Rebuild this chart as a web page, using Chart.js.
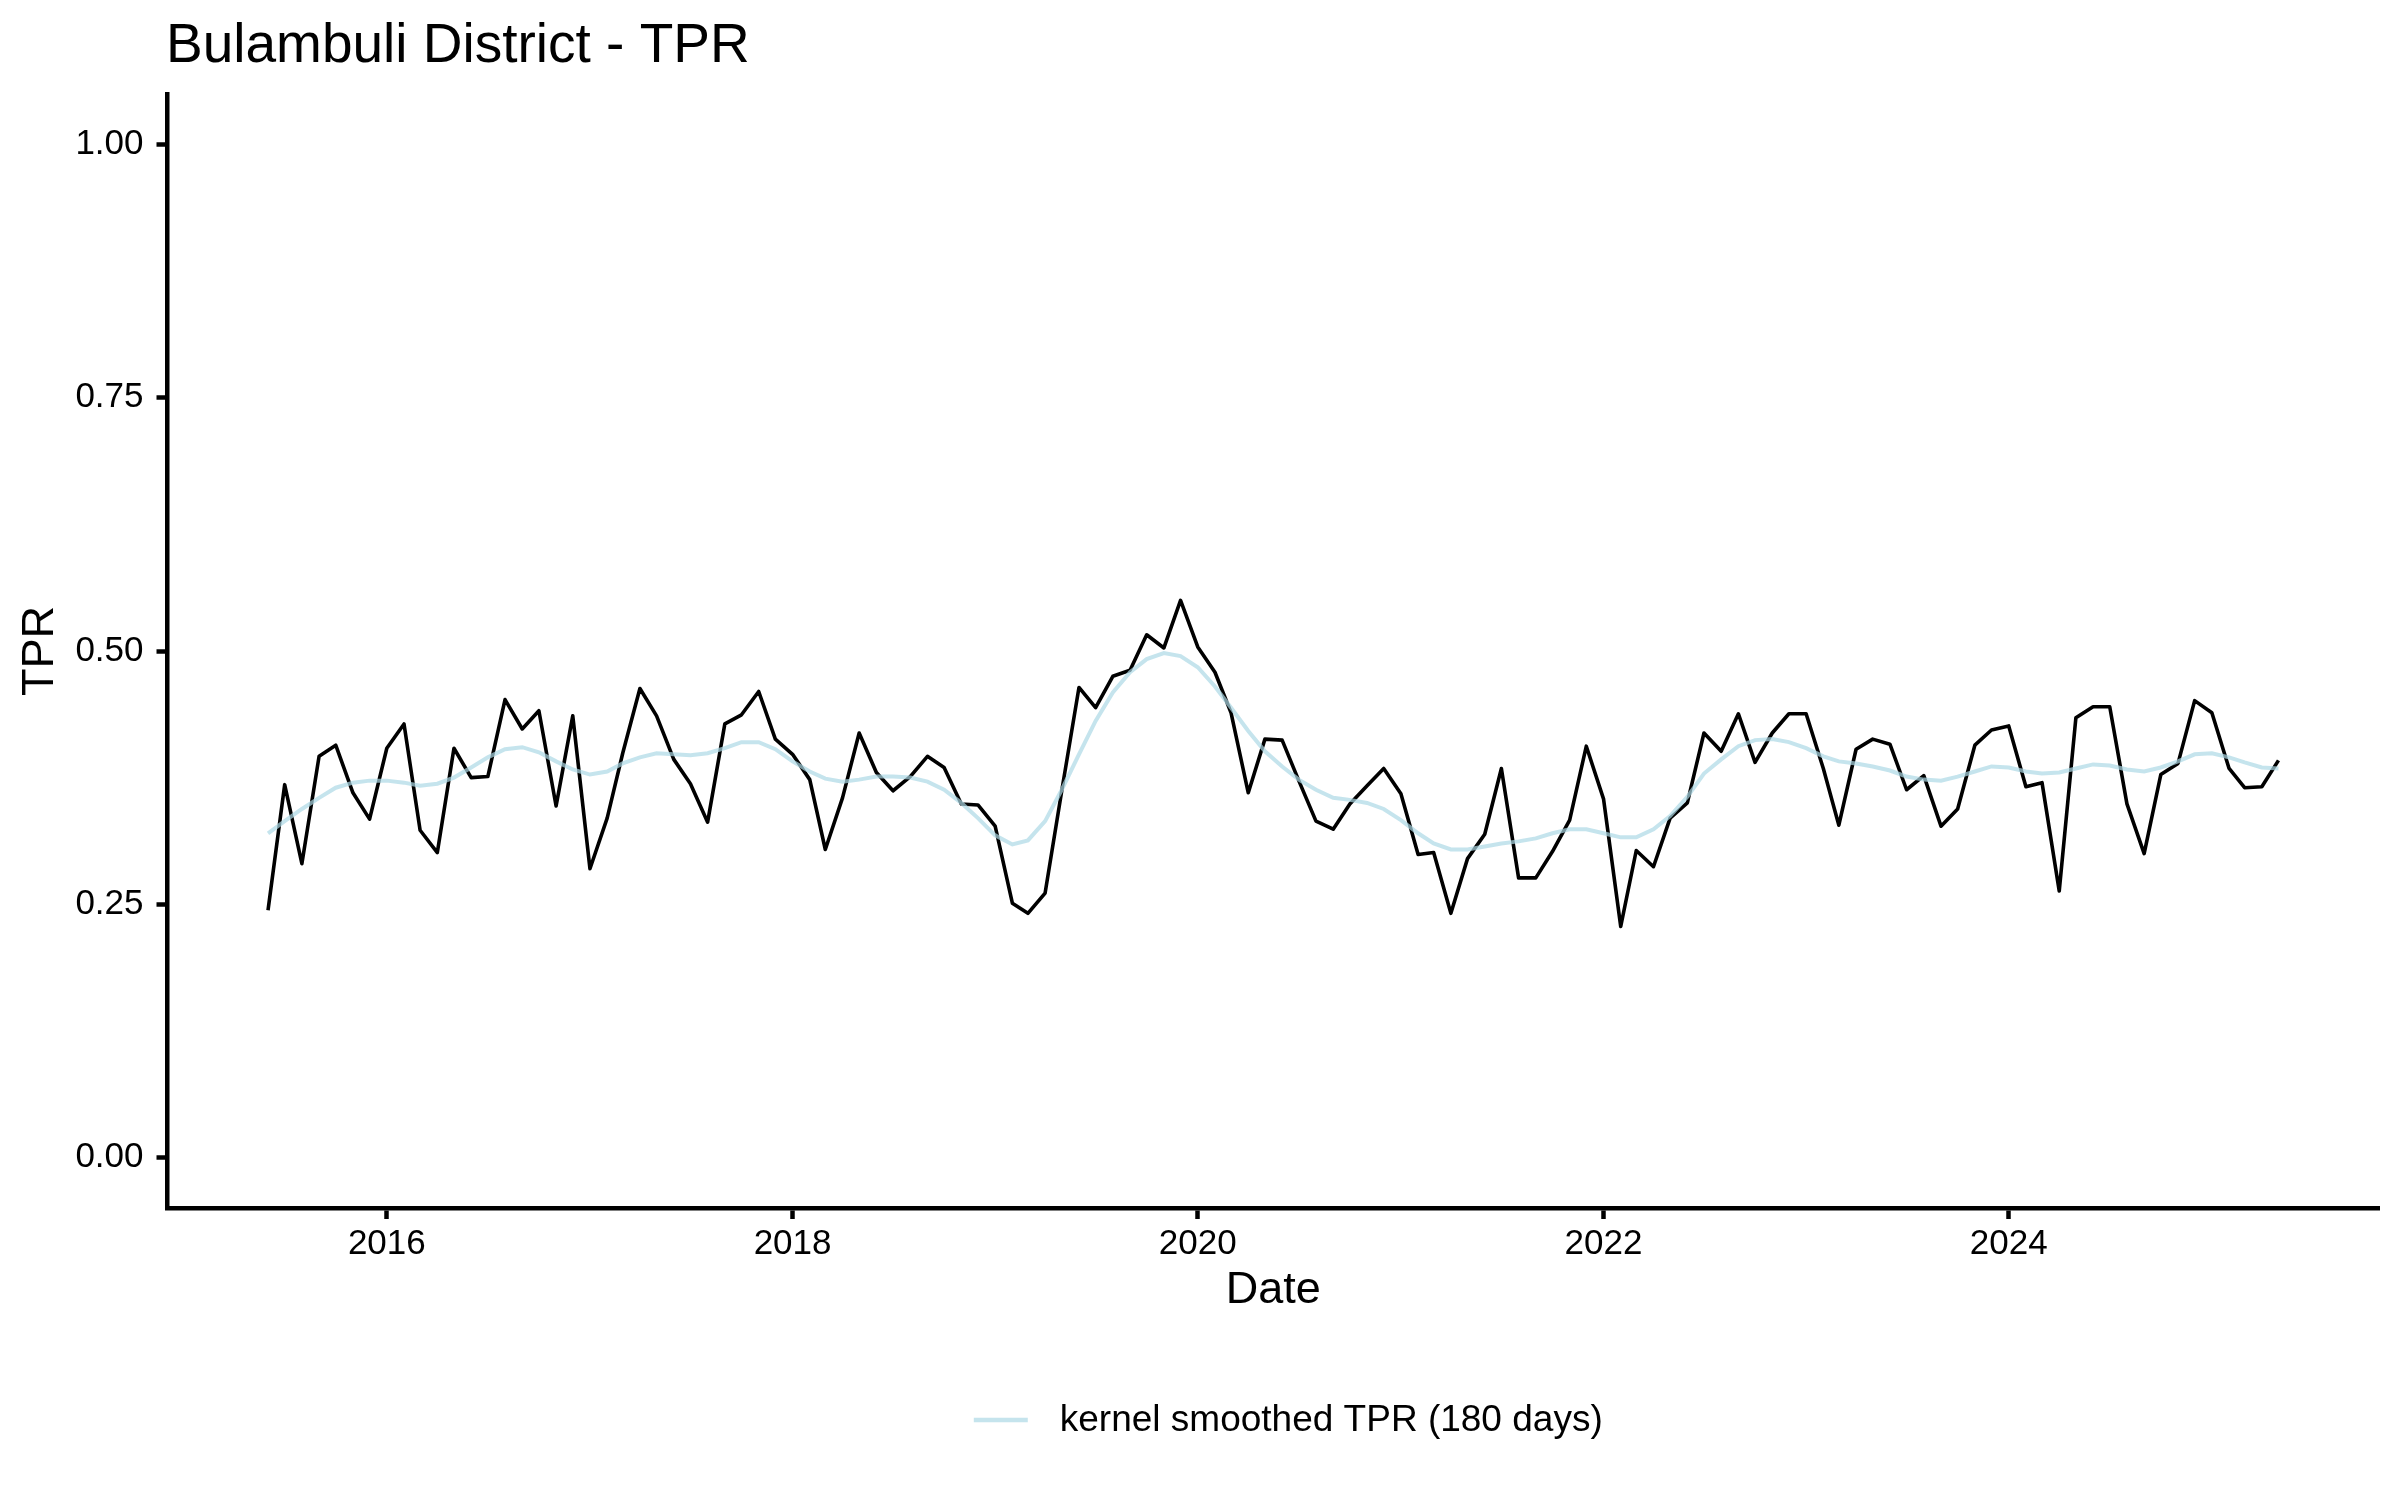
<!DOCTYPE html>
<html><head><meta charset="utf-8">
<script src="https://cdn.jsdelivr.net/npm/chart.js@4/dist/chart.umd.min.js"></script>
<style>html,body{margin:0;padding:0;background:#fff;}canvas{display:block;}</style>
</head><body>
<canvas id="c" width="2400" height="1500"></canvas>
<script>
const chartTitle = 'Bulambuli District - TPR';
const xTitle = 'Date';
const yTitle = 'TPR';
const legendLabel = 'kernel smoothed TPR (180 days)';

const months = [
'2015-06','2015-07','2015-08','2015-09','2015-10','2015-11','2015-12',
'2016-01','2016-02','2016-03','2016-04','2016-05','2016-06','2016-07','2016-08','2016-09','2016-10','2016-11','2016-12',
'2017-01','2017-02','2017-03','2017-04','2017-05','2017-06','2017-07','2017-08','2017-09','2017-10','2017-11','2017-12',
'2018-01','2018-02','2018-03','2018-04','2018-05','2018-06','2018-07','2018-08','2018-09','2018-10','2018-11','2018-12',
'2019-01','2019-02','2019-03','2019-04','2019-05','2019-06','2019-07','2019-08','2019-09','2019-10','2019-11','2019-12',
'2020-01','2020-02','2020-03','2020-04','2020-05','2020-06','2020-07','2020-08','2020-09','2020-10','2020-11','2020-12',
'2021-01','2021-02','2021-03','2021-04','2021-05','2021-06','2021-07','2021-08','2021-09','2021-10','2021-11','2021-12',
'2022-01','2022-02','2022-03','2022-04','2022-05','2022-06','2022-07','2022-08','2022-09','2022-10','2022-11','2022-12',
'2023-01','2023-02','2023-03','2023-04','2023-05','2023-06','2023-07','2023-08','2023-09','2023-10','2023-11','2023-12',
'2024-01','2024-02','2024-03','2024-04','2024-05','2024-06','2024-07','2024-08','2024-09','2024-10','2024-11','2024-12',
'2025-01','2025-02','2025-03','2025-04','2025-05'
];

const tpr = [
0.244,0.368,0.290,0.396,0.407,0.360,0.334,
0.404,0.428,0.323,0.301,0.404,0.375,0.376,0.452,0.423,0.441,0.347,0.436,
0.285,0.335,0.399,0.463,0.436,0.393,0.369,0.331,0.428,0.437,0.460,0.413,
0.398,0.373,0.304,0.355,0.419,0.380,0.362,0.376,0.396,0.385,0.349,0.348,
0.327,0.251,0.241,0.261,0.362,0.464,0.444,0.475,0.481,0.516,0.503,0.550,
0.504,0.479,0.439,0.360,0.413,0.412,0.372,0.332,0.324,0.349,0.367,0.384,
0.359,0.299,0.301,0.241,0.295,0.319,0.384,0.276,0.276,0.302,0.333,0.406,
0.354,0.228,0.303,0.287,0.335,0.350,0.419,0.401,0.438,0.390,0.419,0.438,
0.438,0.384,0.328,0.403,0.413,0.408,0.363,0.377,0.327,0.344,0.407,0.422,
0.426,0.366,0.370,0.263,0.434,0.445,0.445,0.349,0.300,0.378,0.389,0.451,
0.439,0.384,0.365,0.366,0.392
];

const tprSmooth = [
0.320,0.332,0.344,0.355,0.365,0.370,0.372,
0.372,0.370,0.367,0.369,0.375,0.385,0.395,0.403,0.405,0.400,0.391,0.383,
0.378,0.381,0.389,0.395,0.399,0.398,0.397,0.399,0.404,0.410,0.410,0.403,
0.391,0.381,0.374,0.371,0.373,0.376,0.376,0.375,0.371,0.363,0.350,0.335,
0.318,0.309,0.313,0.332,0.363,0.398,0.431,0.459,0.479,0.492,0.498,0.495,
0.484,0.465,0.444,0.421,0.401,0.386,0.373,0.363,0.355,0.353,0.350,0.344,
0.333,0.320,0.310,0.304,0.304,0.307,0.310,0.312,0.315,0.320,0.324,0.324,
0.320,0.316,0.316,0.324,0.337,0.356,0.379,0.393,0.406,0.412,0.413,0.410,
0.404,0.396,0.391,0.389,0.386,0.382,0.376,0.373,0.372,0.376,0.381,0.386,
0.385,0.381,0.379,0.380,0.384,0.388,0.387,0.383,0.381,0.385,0.391,0.398,
0.399,0.395,0.390,0.385,0.384
];

const xTickYears = [2016, 2018, 2020, 2022, 2024];
const xTickLabels = ['2016', '2018', '2020', '2022', '2024'];
const yTickValues = [0, 0.25, 0.5, 0.75, 1.0];
const yTickLabels = ['0.00', '0.25', '0.50', '0.75', '1.00'];

const FONT = '"Liberation Sans", Arial, Helvetica, sans-serif';
const smoothColor = 'rgba(173,216,230,0.7)';

function toTime(m) { const p = m.split('-'); return Date.UTC(+p[0], +p[1] - 1, 1); }
const xs = months.map(toTime);
const xTickValues = xTickYears.map(y => Date.UTC(y, 0, 1));
const span = xs[xs.length - 1] - xs[0];
const xMin = xs[0] - 0.05 * span, xMax = xs[xs.length - 1] + 0.05 * span;

const rawPts = xs.map((x, i) => ({x: x, y: tpr[i]}));
const smPts = xs.map((x, i) => ({x: x, y: tprSmooth[i]}));

const decor = {
  id: 'decor',
  afterDraw(chart) {
    const ctx = chart.ctx, a = chart.chartArea;
    ctx.save();
    ctx.fillStyle = '#000';
    ctx.font = '55px ' + FONT;
    ctx.textBaseline = 'alphabetic';
    ctx.textAlign = 'left';
    ctx.fillText(chartTitle, 166, 62);
    // legend
    ctx.font = '37px ' + FONT;
    const tw = ctx.measureText(legendLabel).width;
    const sw = 54, gap = 32;
    const total = sw + gap + tw;
    const cx = (a.left + a.right) / 2 + 15;
    const x0 = cx - total / 2;
    const ly = 1420;
    ctx.strokeStyle = smoothColor;
    ctx.lineWidth = 4.5;
    ctx.beginPath(); ctx.moveTo(x0, ly); ctx.lineTo(x0 + sw, ly); ctx.stroke();
    ctx.fillStyle = '#000';
    ctx.textBaseline = 'middle';
    ctx.fillText(legendLabel, x0 + sw + gap, ly + 1);
    ctx.restore();
  }
};

new Chart(document.getElementById('c'), {
  type: 'line',
  data: {
    datasets: [
      { label: legendLabel, data: smPts, borderColor: smoothColor, backgroundColor: smoothColor,
        borderWidth: 4, pointRadius: 0, tension: 0, order: 1 },
      { label: 'TPR', data: rawPts, borderColor: '#000', backgroundColor: '#000',
        borderWidth: 3.6, pointRadius: 0, tension: 0, order: 2, borderJoinStyle: 'round' }
    ]
  },
  plugins: [decor],
  options: {
    responsive: false,
    devicePixelRatio: 1,
    animation: false,
    layout: { padding: { top: 94, right: 21, left: 0, bottom: 110 } },
    plugins: { legend: { display: false }, title: { display: false }, tooltip: { enabled: false } },
    scales: {
      x: {
        type: 'linear', min: xMin, max: xMax,
        afterBuildTicks: s => { s.ticks = xTickValues.map(v => ({value: v})); },
        afterFit: s => { s.height = 182; },
        ticks: { callback: (v) => { const i = xTickValues.indexOf(v); return i >= 0 ? xTickLabels[i] : ''; },
                 font: { family: FONT, size: 35 }, color: '#000', padding: 4, maxRotation: 0, autoSkip: false },
        grid: { drawOnChartArea: false, drawTicks: true, tickLength: 11, tickWidth: 4.5, color: '#000' },
        border: { display: true, color: '#000', width: 4.5 },
        title: { display: true, text: xTitle, font: { family: FONT, size: 45 }, color: '#000', padding: { top: 0, bottom: 72 } }
      },
      y: {
        min: -0.05, max: 1.05,
        afterBuildTicks: s => { s.ticks = yTickValues.map(v => ({value: v})); },
        afterFit: s => { s.width = 167.5; },
        ticks: { callback: (v) => { const i = yTickValues.indexOf(v); return i >= 0 ? yTickLabels[i] : ''; },
                 font: { family: FONT, size: 35 }, color: '#000', padding: 13 },
        grid: { drawOnChartArea: false, drawTicks: true, tickLength: 11, tickWidth: 4.5, color: '#000' },
        border: { display: true, color: '#000', width: 4.5 },
        title: { display: true, text: yTitle, font: { family: FONT, size: 45 }, color: '#000', padding: { top: 14, bottom: 0 } }
      }
    }
  }
});
</script>
</body></html>
